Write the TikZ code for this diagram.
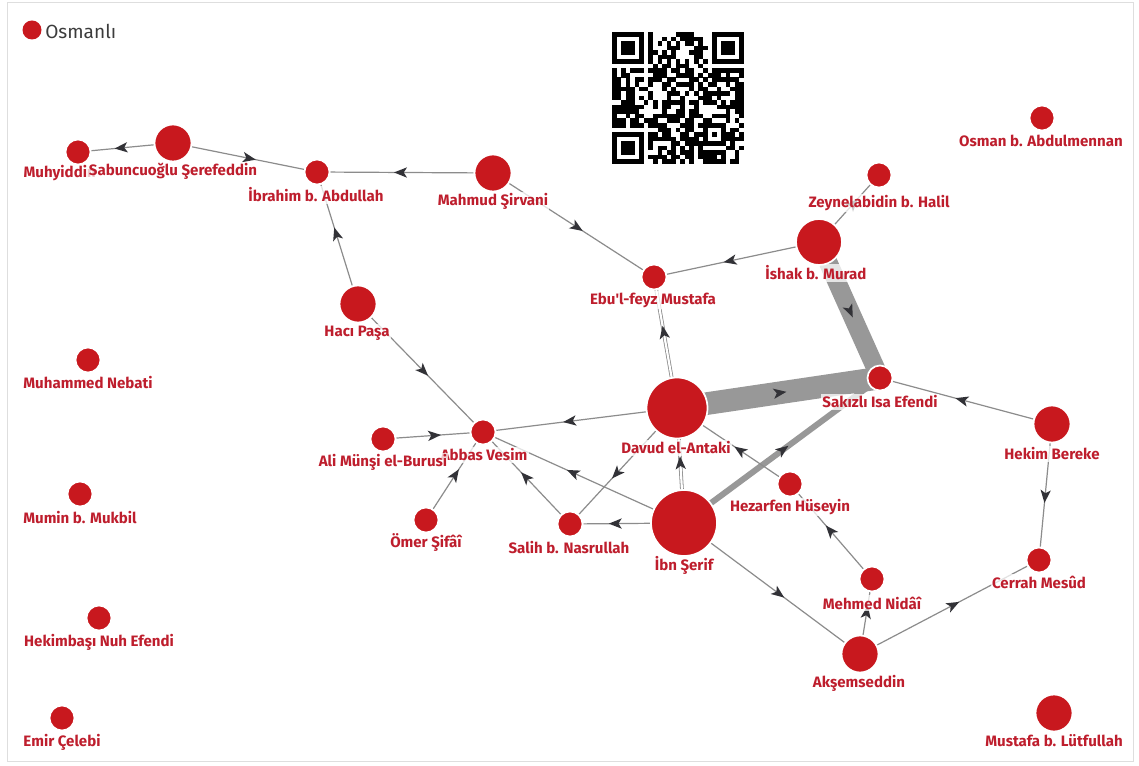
\documentclass[tikz,border=0pt]{standalone}
\usepackage{fontspec}
\setmainfont{Fira Sans}
\usetikzlibrary{decorations.markings,calc}
\definecolor{nodered}{RGB}{200,24,30}
\definecolor{labelred}{RGB}{190,30,45}
\definecolor{edgegray}{RGB}{140,140,140}
\definecolor{bandgray}{RGB}{152,152,152}
\definecolor{arrowgray}{RGB}{50,50,55}
\definecolor{framegray}{RGB}{222,222,222}
\definecolor{legendgray}{RGB}{60,60,60}
\pgfdeclarelayer{bg}
\pgfdeclarelayer{back}
\pgfsetlayers{back,bg,main}
\tikzset{
  nd/.style={circle, fill=nodered, draw=white, line width=1.3pt, inner sep=0pt},
  sm/.style={nd, minimum size=18.75pt},
  md/.style={nd, minimum size=27.75pt},
  lg/.style={nd, minimum size=#1},
  lbl/.style={font=\bfseries\fontsize{11.3pt}{13pt}\selectfont, text=labelred, fill=white, fill opacity=0.75, text opacity=1, inner sep=1pt},
  arr/.style={decoration={markings, mark=at position 0.5 with {\fill[arrowgray] (6pt,0pt) -- (-3.8pt,3.9pt) -- (-1.3pt,0pt) -- (-3.8pt,-3.9pt) -- cycle;}}, postaction={decorate}},
  ed/.style={draw=edgegray, line width=0.9pt, arr},
  dbl/.style={draw=edgegray, line width=0.6pt, double=white, double distance=1.6pt, arr},
  band/.style={draw=bandgray, line width=#1, arr},
}
\begin{document}
\begin{tikzpicture}[x=0.75pt,y=-0.75pt]
\useasboundingbox (0,0) rectangle (1139,766);
\begin{pgfonlayer}{back}
\fill[white] (0,0) rectangle (1139,766);
\draw[framegray, line width=0.75pt] (7,3) rectangle (1133,761);
\end{pgfonlayer}

% legend
\node[circle, fill=nodered, inner sep=0pt, minimum size=14.25pt] (legdot) at (32,30) {};
\node[anchor=west, inner sep=0pt, font=\fontsize{14.3pt}{16pt}\selectfont, text=legendgray] (legtxt) at (45,31) {Osmanlı};

% QR code
\def\qs{4.55}
\fill[white] (606,26) rectangle (752,170);
\pgfmathsetseed{4242}
\foreach \i in {0,...,28}{
  \foreach \j in {0,...,28}{
    \pgfmathtruncatemacro{\qskip}{((\i<8)&&(\j<8)) || ((\i>20)&&(\j<8)) || ((\i<8)&&(\j>20)) || ((\i>19)&&(\i<25)&&(\j>19)&&(\j<25)) || (\i==6) || (\j==6)}
    \pgfmathtruncatemacro{\qon}{rnd<0.6}
    \ifnum\qskip=0 \ifnum\qon=1 \fill[black] ({612+\i*\qs},{32+\j*\qs}) rectangle ++(4.6,4.6); \fi\fi
  }
}
\foreach \fx/\fy in {0/0,22/0,0/22}{
  \fill[black] ({612+\fx*\qs},{32+\fy*\qs}) rectangle ++({7*\qs},{7*\qs});
  \fill[white] ({612+(\fx+1)*\qs},{32+(\fy+1)*\qs}) rectangle ++({5*\qs},{5*\qs});
  \fill[black] ({612+(\fx+2)*\qs},{32+(\fy+2)*\qs}) rectangle ++({3*\qs},{3*\qs});
}
\fill[black] ({612+20*\qs},{32+20*\qs}) rectangle ++({5*\qs},{5*\qs});
\fill[white] ({612+21*\qs},{32+21*\qs}) rectangle ++({3*\qs},{3*\qs});
\fill[black] ({612+22*\qs},{32+22*\qs}) rectangle ++({\qs},{\qs});
\foreach \k in {8,10,...,20}{
  \fill[black] ({612+\k*\qs},{32+6*\qs}) rectangle ++(4.6,4.6);
  \fill[black] ({612+6*\qs},{32+\k*\qs}) rectangle ++(4.6,4.6);
}

% nodes
\node[sm] (muh) at (78,152) {};
\node[md] (sab) at (173,143) {};
\node[sm] (ibr) at (317,172) {};
\node[md] (mah) at (493,173) {};
\node[sm] (ebu) at (654,277) {};
\node[sm] (zey) at (879,175) {};
\node[lg=34.5pt] (ish) at (819,242) {};
\node[sm] (osm) at (1042,118) {};
\node[md] (haci) at (358,304) {};
\node[sm] (neb) at (88,360) {};
\node[sm] (sak) at (880,378) {};
\node[lg=45.75pt] (dav) at (677,408) {};
\node[sm] (abb) at (483,432) {};
\node[sm] (ali) at (383,439) {};
\node[md] (bere) at (1052,424) {};
\node[sm] (hez) at (790,484) {};
\node[sm] (mum) at (80,494) {};
\node[sm] (omer) at (426,520) {};
\node[sm] (sal) at (570,524) {};
\node[lg=49.5pt] (ibn) at (684,523) {};
\node[sm] (cer) at (1039,560) {};
\node[sm] (nid) at (872,579) {};
\node[sm] (nuh) at (99,618) {};
\node[md] (aks) at (860,654) {};
\node[sm] (emir) at (62,718) {};
\node[md] (mus) at (1054,713) {};

% edges
\begin{pgfonlayer}{bg}
\draw[band=14pt] (ish.center) -- (sak.center);
\draw[band=17pt] (dav.center) -- (sak.center);
\draw[band=4.5pt] (ibn.center) -- (sak.center);
\draw[ed] (sab) -- (muh);
\draw[ed] (sab) -- (ibr);
\draw[ed] (mah) -- (ibr);
\draw[ed] (haci) -- (ibr);
\draw[ed] (mah) -- (ebu);
\draw[ed] (ish) -- (ebu);
\draw[ed] (ish) -- (zey);
\draw[ed] (bere) -- (sak);
\draw[ed] (bere) -- (cer);
\draw[ed] (aks) -- (cer);
\draw[ed] (aks) -- (nid);
\draw[ed] (nid) -- (hez);
\draw[ed] (ibn) -- (aks);
\draw[ed] (hez) -- (dav);
\draw[ed] (dav) -- (abb);
\draw[ed] (ali) -- (abb);
\draw[ed] (omer) -- (abb);
\draw[ed] (sal) -- (abb);
\draw[ed] (ibn) -- (abb);
\draw[ed] (dav) -- (sal);
\draw[ed] (ibn) -- (sal);
\draw[ed] (haci) -- (abb);
\draw[dbl] (ibn) -- (dav);
\draw[dbl] (dav) -- (ebu);
\end{pgfonlayer}

% labels
\node[lbl, anchor=west] (muhL) at (22,173) {Muhyiddin};
\node[lbl] (sabL) at (173,171) {Sabuncuoğlu Şerefeddin};
\node[lbl] (ibrL) at (316,195) {İbrahim b. Abdullah};
\node[lbl] (mahL) at (493,201) {Mahmud Şirvani};
\node[lbl] (ebuL) at (653,300) {Ebu\textquotesingle l-feyz Mustafa};
\node[lbl] (zeyL) at (879,203) {Zeynelabidin b. Halil};
\node[lbl] (ishL) at (816,273) {İshak b. Murad};
\node[lbl] (osmL) at (1041,141) {Osman b. Abdulmennan};
\node[lbl] (haciL) at (357,333) {Hacı Paşa};
\node[lbl] (nebL) at (88,383) {Muhammed Nebati};
\node[lbl] (sakL) at (880,402) {Sakızlı Isa Efendi};
\node[lbl] (davL) at (676,448) {Davud el-Antaki};
\node[lbl] (abbL) at (484,455) {Abbas Vesim};
\node[lbl] (aliL) at (383,462) {Ali Münşi el-Burusi};
\node[lbl] (bereL) at (1052,454) {Hekim Bereke};
\node[lbl] (hezL) at (790,507) {Hezarfen Hüseyin};
\node[lbl] (mumL) at (80,518) {Mumin b. Mukbil};
\node[lbl] (omerL) at (426,543) {Ömer Şifâî};
\node[lbl] (salL) at (569,548) {Salih b. Nasrullah};
\node[lbl] (ibnL) at (684,565) {İbn Şerif};
\node[lbl] (cerL) at (1039,582) {Cerrah Mesûd};
\node[lbl] (nidL) at (872,603) {Mehmed Nidâî};
\node[lbl] (nuhL) at (99,642) {Hekimbaşı Nuh Efendi};
\node[lbl] (aksL) at (859,683) {Akşemseddin};
\node[lbl] (emirL) at (62,742) {Emir Çelebi};
\node[lbl] (musL) at (1054,741) {Mustafa b. Lütfullah};
\end{tikzpicture}
\end{document}
